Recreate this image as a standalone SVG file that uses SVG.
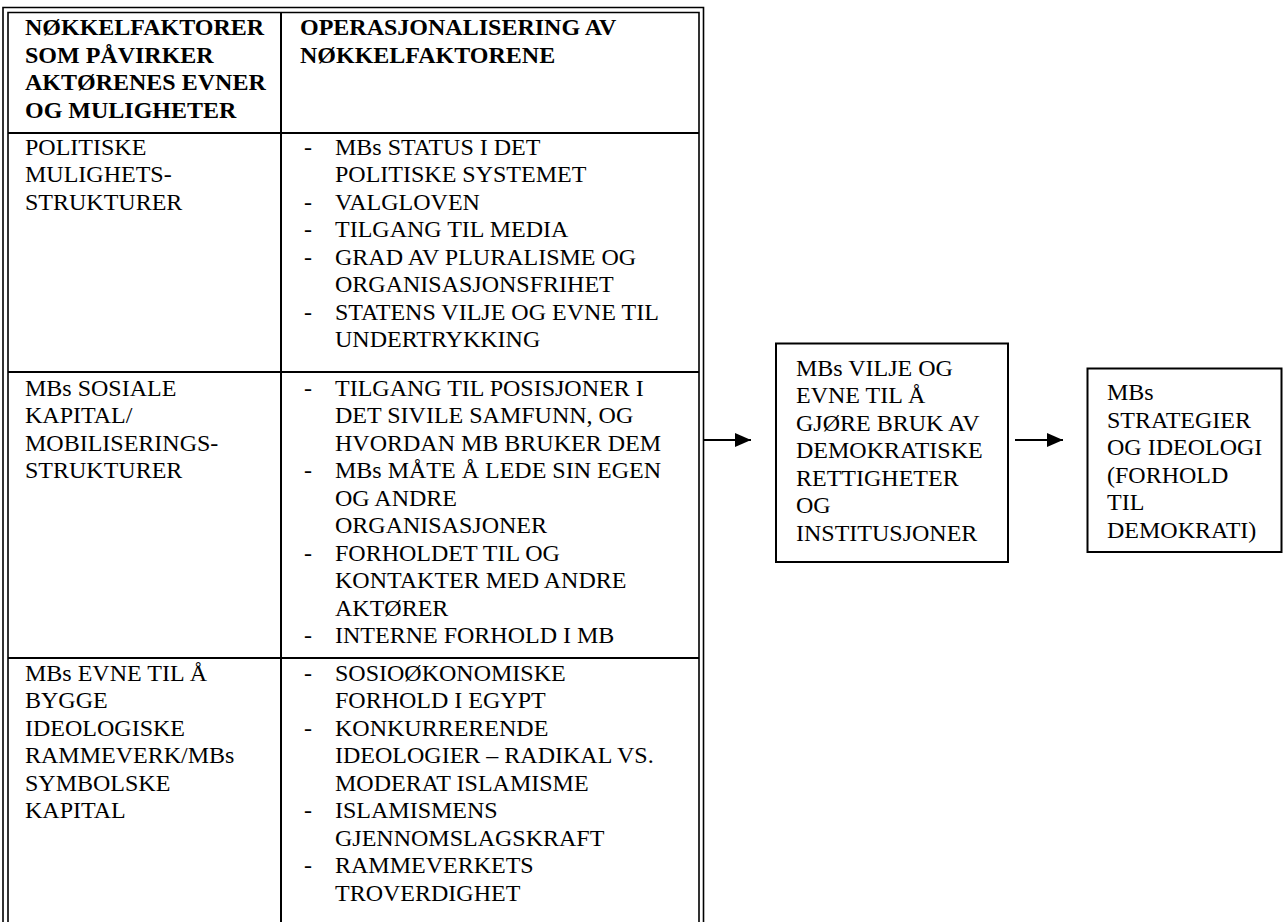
<svg xmlns="http://www.w3.org/2000/svg" width="1284" height="922" viewBox="0 0 1284 922">
<defs>
<style>
text{font-family:"Liberation Serif","Times New Roman",serif;font-size:24px;fill:#000}
.b{font-weight:bold}
.ln{stroke:#000;stroke-width:2;fill:none}
.bl{stroke:#000;stroke-width:1.6;fill:none}
.box{stroke:#000;stroke-width:2;fill:#fff}
</style>
<marker id="ah" viewBox="0 0 16 14" refX="16" refY="7" markerWidth="16" markerHeight="14" markerUnits="userSpaceOnUse" orient="auto">
<path d="M0,0 L16,7 L0,14 Z" fill="#000"/>
</marker>
</defs>
<rect width="1284" height="922" fill="#fff"/>
<g id="table">
<path class="bl" d="M3,922 V7.5 H703.5 V922"/>
<path class="bl" d="M8,922 V12.5 H699 V922"/>
<path class="ln" d="M281,12.5 V922"/>
<path class="ln" d="M8,133 H699 M8,372 H699 M8,658 H699"/>
<g id="header">
<text class="b" x="25" y="35">NØKKELFAKTORER</text>
<text class="b" x="25" y="62.5">SOM PÅVIRKER</text>
<text class="b" x="25" y="90">AKTØRENES EVNER</text>
<text class="b" x="25" y="117.5">OG MULIGHETER</text>
<text class="b" x="300" y="35">OPERASJONALISERING AV</text>
<text class="b" x="300" y="62.5">NØKKELFAKTORENE</text>
</g>
<g id="row1">
<text x="25" y="154.5">POLITISKE</text>
<text x="25" y="182">MULIGHETS-</text>
<text x="25" y="209.5">STRUKTURER</text>
<text x="304" y="154.5">-</text>
<text x="335" y="154.5">MBs STATUS I DET</text>
<text x="335" y="182">POLITISKE SYSTEMET</text>
<text x="304" y="209.5">-</text>
<text x="335" y="209.5">VALGLOVEN</text>
<text x="304" y="237">-</text>
<text x="335" y="237">TILGANG TIL MEDIA</text>
<text x="304" y="264.5">-</text>
<text x="335" y="264.5">GRAD AV PLURALISME OG</text>
<text x="335" y="292">ORGANISASJONSFRIHET</text>
<text x="304" y="319.5">-</text>
<text x="335" y="319.5">STATENS VILJE OG EVNE TIL</text>
<text x="335" y="347">UNDERTRYKKING</text>
</g>
<g id="row2">
<text x="25" y="395.5">MBs SOSIALE</text>
<text x="25" y="423">KAPITAL/</text>
<text x="25" y="450.5">MOBILISERINGS-</text>
<text x="25" y="478">STRUKTURER</text>
<text x="304" y="395.5">-</text>
<text x="335" y="395.5">TILGANG TIL POSISJONER I</text>
<text x="335" y="423">DET SIVILE SAMFUNN, OG</text>
<text x="335" y="450.5">HVORDAN MB BRUKER DEM</text>
<text x="304" y="478">-</text>
<text x="335" y="478">MBs MÅTE Å LEDE SIN EGEN</text>
<text x="335" y="505.5">OG ANDRE</text>
<text x="335" y="533">ORGANISASJONER</text>
<text x="304" y="560.5">-</text>
<text x="335" y="560.5">FORHOLDET TIL OG</text>
<text x="335" y="588">KONTAKTER MED ANDRE</text>
<text x="335" y="615.5">AKTØRER</text>
<text x="304" y="643">-</text>
<text x="335" y="643">INTERNE FORHOLD I MB</text>
</g>
<g id="row3">
<text x="25" y="680.5">MBs EVNE TIL Å</text>
<text x="25" y="708">BYGGE</text>
<text x="25" y="735.5">IDEOLOGISKE</text>
<text x="25" y="763">RAMMEVERK/MBs</text>
<text x="25" y="790.5">SYMBOLSKE</text>
<text x="25" y="818">KAPITAL</text>
<text x="304" y="680.5">-</text>
<text x="335" y="680.5">SOSIOØKONOMISKE</text>
<text x="335" y="708">FORHOLD I EGYPT</text>
<text x="304" y="735.5">-</text>
<text x="335" y="735.5">KONKURRERENDE</text>
<text x="335" y="763">IDEOLOGIER – RADIKAL VS.</text>
<text x="335" y="790.5">MODERAT ISLAMISME</text>
<text x="304" y="818">-</text>
<text x="335" y="818">ISLAMISMENS</text>
<text x="335" y="845.5">GJENNOMSLAGSKRAFT</text>
<text x="304" y="873">-</text>
<text x="335" y="873">RAMMEVERKETS</text>
<text x="335" y="900.5">TROVERDIGHET</text>
</g>
</g>
<g id="box-vilje">
<rect class="box" x="776" y="343.5" width="232" height="218.5"/>
<text x="796" y="375.5">MBs VILJE OG</text>
<text x="796" y="403">EVNE TIL Å</text>
<text x="796" y="430.5">GJØRE BRUK AV</text>
<text x="796" y="458">DEMOKRATISKE</text>
<text x="796" y="485.5">RETTIGHETER</text>
<text x="796" y="513">OG</text>
<text x="796" y="540.5">INSTITUSJONER</text>
</g>
<g id="box-strategier">
<rect class="box" x="1087.5" y="368.5" width="194" height="183.5"/>
<text x="1107" y="400">MBs</text>
<text x="1107" y="427.5">STRATEGIER</text>
<text x="1107" y="455">OG IDEOLOGI</text>
<text x="1107" y="482.5">(FORHOLD</text>
<text x="1107" y="510">TIL</text>
<text x="1107" y="537.5">DEMOKRATI)</text>
</g>
<g id="connectors">
<line class="ln" x1="704" y1="440" x2="751" y2="440" marker-end="url(#ah)"/>
<line class="ln" x1="1015" y1="440" x2="1063" y2="440" marker-end="url(#ah)"/>
</g>
</svg>
